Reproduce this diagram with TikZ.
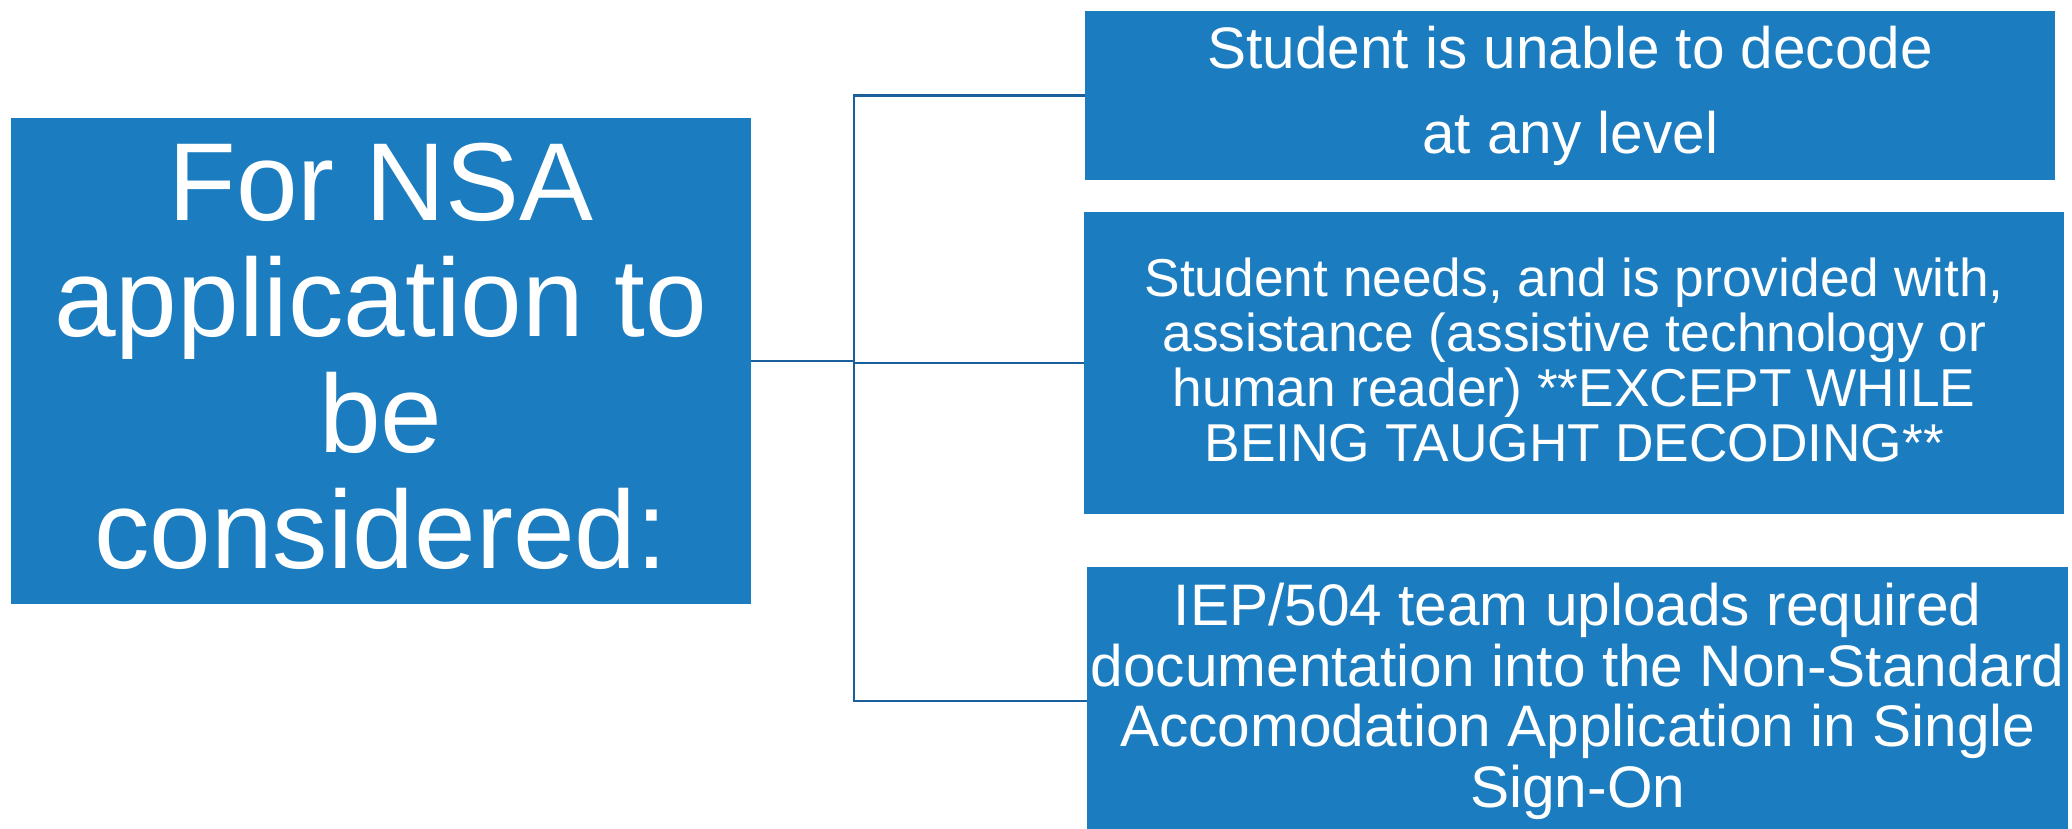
\documentclass[tikz,border=0pt]{standalone}
\usepackage{fontspec}
\setmainfont{Liberation Sans}
\definecolor{boxblue}{RGB}{27,124,192}
\definecolor{lineblue}{RGB}{26,96,156}
\tikzset{
  bluebox/.style={fill=boxblue, draw=none, text=white, align=center, inner sep=0pt, anchor=north west},
  conn/.style={draw=lineblue, line width=2.5pt}
}
\begin{document}
\begin{tikzpicture}[x=1pt,y=1pt]
\useasboundingbox (0,0) rectangle (2072,-829);
\node[bluebox, minimum width=740pt, minimum height=486.4pt, text depth=9.8pt,
      font=\fontsize{110.8}{116}\selectfont] (L) at (10.6,-117.6)
  {For NSA\\application to\\be\\considered:};
\node[bluebox, minimum width=970pt, minimum height=169.4pt,
      font=\fontsize{58.5}{85}\selectfont] (B1) at (1085,-10.6)
  {Student is unable to decode\\at any level};
\node[bluebox, minimum width=980pt, minimum height=302pt, text depth=7.2pt,
      font=\fontsize{53.3}{55}\selectfont] (B2) at (1084,-212)
  {Student needs, and is provided with,\\assistance (assistive technology or\\human reader) **EXCEPT WHILE\\BEING TAUGHT DECODING**};
\node[bluebox, minimum width=981pt, minimum height=268pt,
      font=\fontsize{58.6}{60.5}\selectfont] (B3) at (1087,-567)
  {IEP/504 team uploads required\\documentation into the Non-Standard\\Accomodation Application in Single\\Sign-On};
\coordinate (j) at (854,-361);
\draw[conn] (L.east) -- (L.east -| j);
\draw[conn] (B1.west) -- (B1.west -| j) -- (B3.west -| j) -- (B3.west);
\draw[conn] (B2.west) -- (B2.west -| j);
\end{tikzpicture}
\end{document}
